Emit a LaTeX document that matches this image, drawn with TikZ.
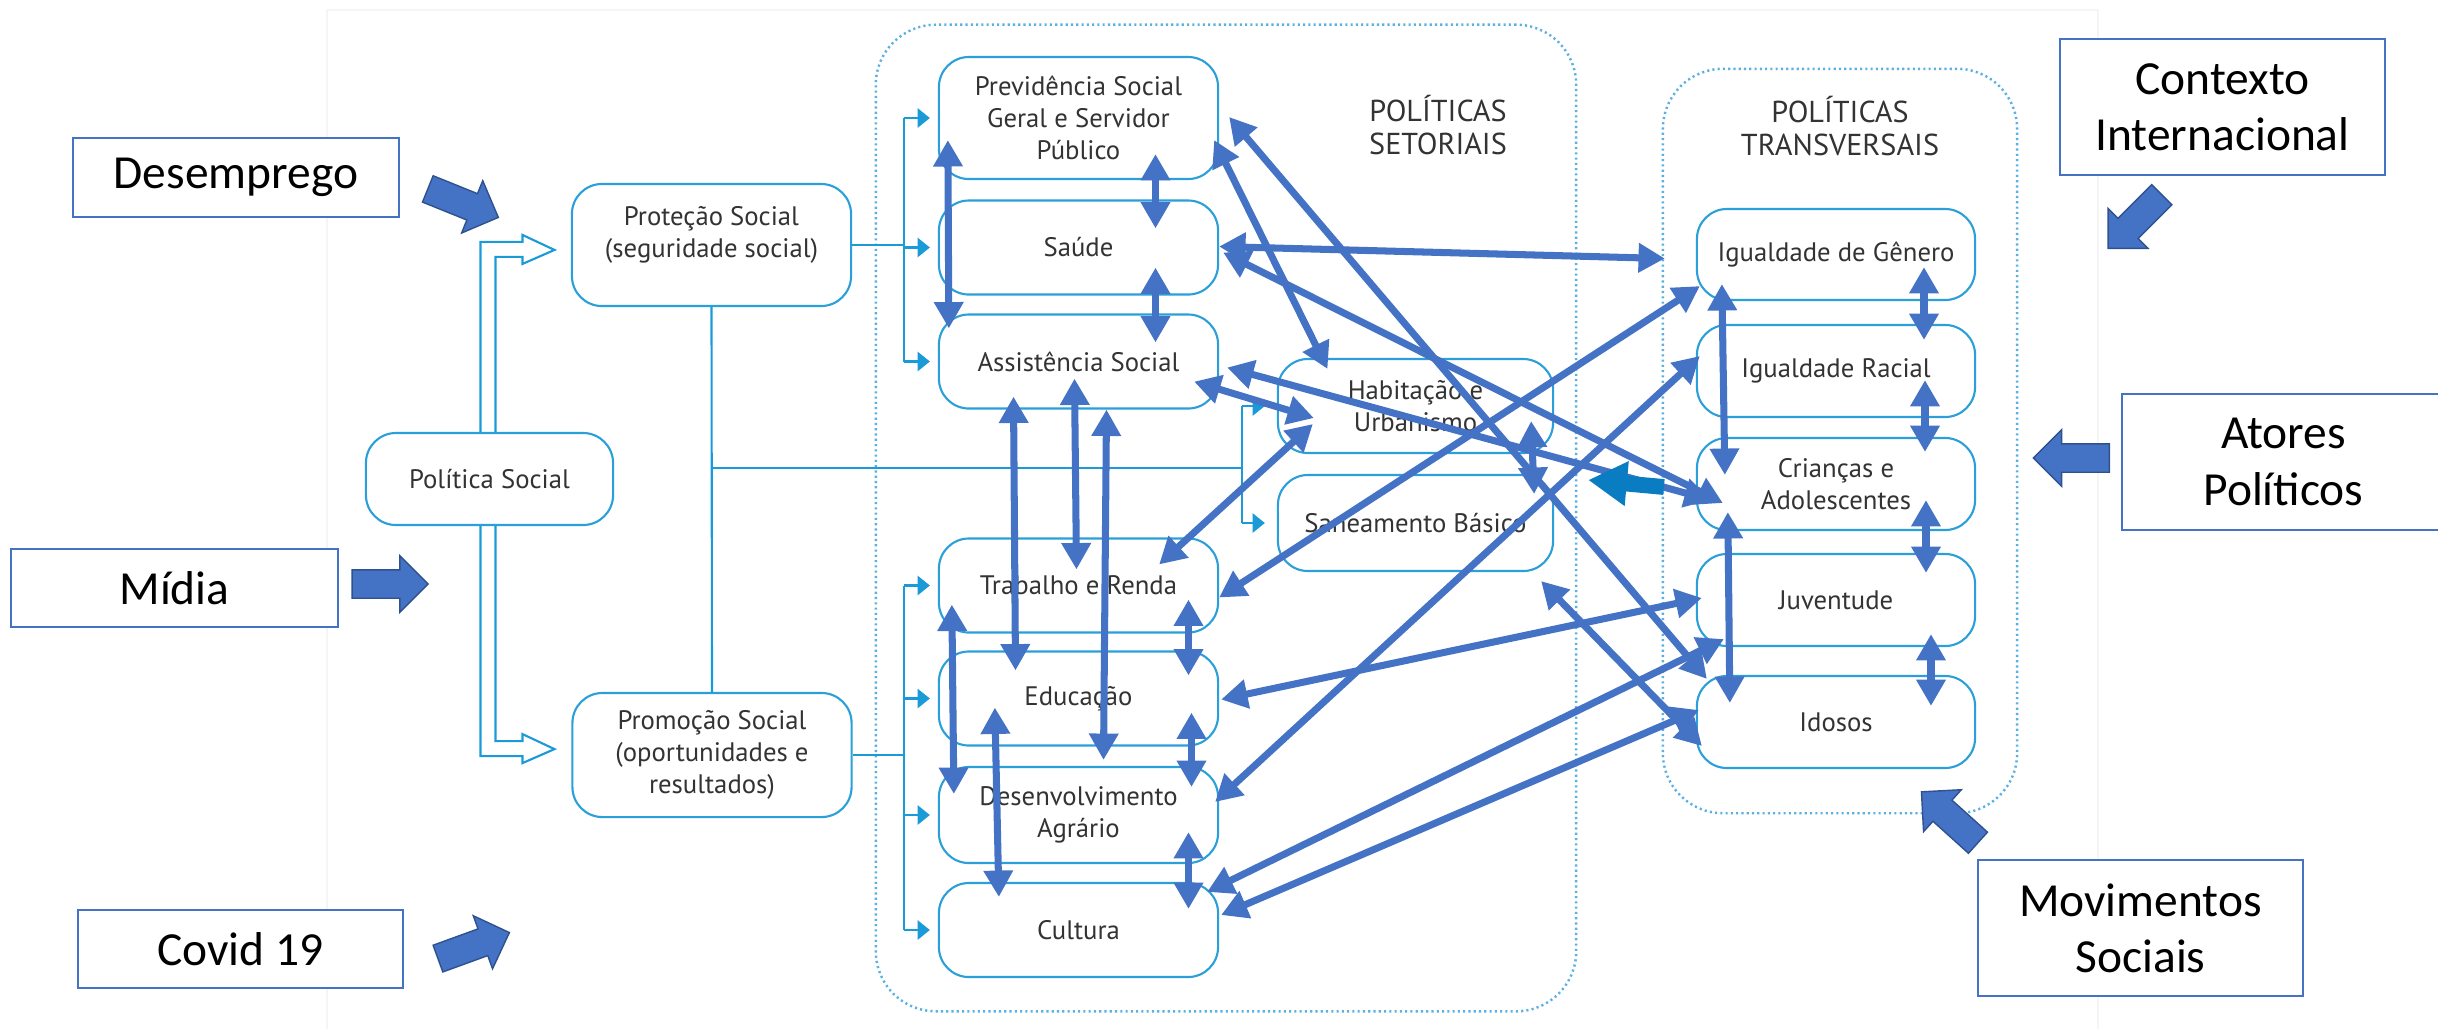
\documentclass[tikz,border=0pt]{standalone}
\usepackage{fontspec}
\setmainfont{Carlito}
\newfontfamily\ptsans{PT Sans}
\usetikzlibrary{arrows.meta,shapes.arrows}

\definecolor{linkblue}{HTML}{4472C4}
\definecolor{edgeblue}{HTML}{2F528F}
\definecolor{boxblue}{HTML}{2B9FD9}
\definecolor{flowblue}{HTML}{1A9AD7}
\definecolor{dotblue}{HTML}{5AB0E0}
\definecolor{tealblue}{HTML}{0A7DC2}
\definecolor{poltext}{HTML}{333333}

\tikzset{
    policy/.style={draw=boxblue, line width=0.6pt, rounded corners=0.3cm, fill=white,
        minimum width=2.79cm, minimum height=0.94cm, inner sep=1pt, align=center,
        text=poltext, font={\ptsans\fontsize{7.6}{9}\selectfont}},
    polhead/.style={align=center, text=poltext, font={\ptsans\fontsize{8.6}{9.5}\selectfont}},
    container/.style={draw=dotblue, line width=0.7pt, dash pattern=on 0.6pt off 0.9pt,
        rounded corners=0.6cm, inner sep=0pt, outer sep=0pt},
    callout/.style={draw=linkblue, line width=0.6pt, fill=white, align=center,
        inner sep=0pt, font={\fontsize{13.5}{16}\selectfont}},
    bigarrow/.style={single arrow, draw=edgeblue, fill=linkblue, line width=0.4pt,
        minimum height=0.76cm, single arrow head extend=0.14cm,
        single arrow head indent=0pt, inner xsep=0pt, inner ysep=0.135cm,
        text height=0pt, text depth=0pt},
    linkarrow/.style={draw=linkblue, line width=2pt, >={Triangle[length=7.5pt,width=8pt]}, <->},
    flow/.style={draw=flowblue, line width=0.6pt},
    flowtip/.style={flow, -{Triangle[length=3.5pt,width=5.5pt]}},
    hollow/.style={draw=flowblue, line width=0.6pt, line join=miter},
    tealarrow/.style={draw=tealblue, line width=4.5pt, -{Triangle[length=11pt,width=12pt]}}
}

\begin{document}
\begin{tikzpicture}[x=0.01cm, y=-0.01cm]
    \useasboundingbox (0,0) rectangle (2438,1029);

  % frame of the pasted chart
    \draw[gray!8] (327,1029) |- (2098,10) -- (2098,1029);

  % Containers
    \node[container, minimum width=7cm, minimum height=9.86cm] (setor) at (1226,518) {};
    \node[container, minimum width=3.54cm, minimum height=7.44cm] (trans) at (1840,441) {};
    \node[polhead] (setorhead) at (1438,125) {POLÍTICAS\\SETORIAIS};
    \node[polhead] (transhead) at (1840,126) {POLÍTICAS\\TRANSVERSAIS};

  % Policy boxes
    \node[policy, minimum width=2.47cm, minimum height=0.92cm] (polsoc) at (489.5,479) {Política Social};
    \node[policy, minimum height=1.22cm] (prot) at (711.5,245) {Proteção Social\\(seguridade social)\\[-1.5pt]};
    \node[policy, minimum height=1.24cm] (prom) at (712,755) {Promoção Social\\(oportunidades e\\resultados)};

    \node[policy, minimum height=1.22cm] (prev) at (1078.5,118) {Previdência Social\\Geral e Servidor\\Público};
    \node[policy] (saude) at (1078.5,247.5) {Saúde};
    \node[policy] (assist) at (1078.5,361.5) {Assistência Social};
    \node[policy] (trab) at (1078.5,585.5) {Trabalho e Renda};
    \node[policy] (edu) at (1078.5,698.5) {Educação};
    \node[policy, minimum height=0.96cm] (desenv) at (1078.5,815) {Desenvolvimento\\Agrário};
    \node[policy] (cult) at (1078.5,930) {Cultura};
    \node[policy, minimum width=2.75cm] (hab) at (1415.5,406) {Habitação e\\Urbanismo};
    \node[policy, minimum width=2.75cm, minimum height=0.96cm] (san) at (1415.5,523) {Saneamento Básico};

    \node[policy, minimum width=2.78cm, minimum height=0.91cm] (gen) at (1836,254.5) {Igualdade de Gênero};
    \node[policy, minimum width=2.78cm, minimum height=0.92cm] (rac) at (1836,371) {Igualdade Racial};
    \node[policy, minimum width=2.78cm, minimum height=0.92cm] (cri) at (1836,484) {Crianças e\\Adolescentes};
    \node[policy, minimum width=2.78cm, minimum height=0.92cm] (juv) at (1836,600) {Juventude};
    \node[policy, minimum width=2.78cm, minimum height=0.92cm] (ido) at (1836,722) {Idosos};

  % Flow lines and brackets into the sectors
    \coordinate (busA) at (904,0);
    \coordinate (busB) at (1242,468);
    \draw[flow] (prot.south) -- (prom.north);
    \draw[flow] (prot.south |- busB) -- (busB);
    \draw[flow] (prot.east) -- (busA |- prot.east);
    \draw[flow] (busA |- prev.west) -- (busA |- assist.west);
    \draw[flow] (prom.east) -- (busA |- prom.east);
    \draw[flow] (busA |- trab.west) -- (busA |- cult.west);
    \foreach \n in {prev,saude,assist,trab,edu,desenv,cult}
      \draw[flowtip] (busA |- \n.west) -- ([shift={(-8,0)}]\n.west);
    \draw[flow] (busB |- hab.west) -- (busB |- san.west);
    \foreach \n in {hab,san}
      \draw[flowtip] (busB |- \n.west) -- ([shift={(-12,0)}]\n.west);

  % Hollow arrows
    \draw[hollow] ([shift={(-9,0)}]polsoc.north) |- ++(42,-190) -- ++(0,-7) -- ++(32,15)
      -- ++(-32,14) -- ++(0,-7) -- ++(-27,0) -- ([shift={(6,0)}]polsoc.north);
    \draw[hollow] ([shift={(-9,0)}]polsoc.south) |- ++(42,230) -- ++(0,7) -- ++(32,-14)
      -- ++(-32,-15) -- ++(0,7) -- ++(-27,0) -- ([shift={(6,0)}]polsoc.south);

  % Links between sectors
    \draw[linkarrow] ([shift={(10,-40)}]prev.south west) -- ([shift={(11,15)}]assist.north west);
    \draw[linkarrow] ([shift={(77,-26)}]prev.south) -- ([shift={(77,29)}]saude.north);
    \draw[linkarrow] ([shift={(77,-28)}]saude.south) -- ([shift={(77,29)}]assist.north);
    \draw[linkarrow] ([shift={(-65,-13)}]assist.south) -- ([shift={(-63,20)}]edu.north);
    \draw[linkarrow] ([shift={(-4,-31)}]assist.south) -- ([shift={(-2,32)}]trab.north);
    \draw[linkarrow] ([shift={(28,0)}]assist.south) -- ([shift={(25,-6)}]desenv.north);
    \draw[linkarrow] ([shift={(-5,22)}]prev.east) -- ([shift={(-88,11)}]hab.north);
    \draw[linkarrow] ([shift={(-25,-28)}]assist.south east) -- ([shift={(37,12)}]hab.west);
    \draw[linkarrow] ([shift={(-60,27)}]trab.north east) -- ([shift={(36,18)}]hab.west);
    \draw[linkarrow] ([shift={(-23,-33)}]hab.south east) -- ([shift={(-20,20)}]san.north east);
    \draw[linkarrow] ([shift={(14,-29)}]trab.south west) -- ([shift={(16,28)}]desenv.north west);
    \draw[linkarrow] ([shift={(57,-39)}]edu.south west) -- ([shift={(61,15)}]cult.north west);
    \draw[linkarrow] ([shift={(110,-34)}]trab.south) -- ([shift={(110,25)}]edu.north);
    \draw[linkarrow] ([shift={(113,-34)}]edu.south) -- ([shift={(113,21)}]desenv.north);
    \draw[linkarrow] ([shift={(110,-32)}]desenv.south) -- ([shift={(110,27)}]cult.north);

  % Links to the transversal policies
    \draw[linkarrow] ([shift={(0,-1)}]saude.east) -- ([shift={(-31,4)}]gen.west);
    \draw[linkarrow] ([shift={(4,5)}]saude.east) -- ([shift={(27,19)}]cri.west);
    \draw[linkarrow] ([shift={(8,6)}]assist.east) -- ([shift={(15,16)}]cri.west);
    \draw[linkarrow] ([shift={(10,-1)}]prev.east) -- ([shift={(11,4)}]ido.north west);
    \draw[linkarrow] ([shift={(0,12)}]trab.east) -- ([shift={(4,-15)}]gen.south west);
    \draw[linkarrow] ([shift={(-4,-13)}]desenv.east) -- ([shift={(4,-15)}]rac.west);
    \draw[linkarrow] ([shift={(2,1)}]edu.east) -- ([shift={(6,-2)}]juv.west);
    \draw[linkarrow] ([shift={(-13,9)}]san.south east) -- ([shift={(6,24)}]ido.west);
    \draw[linkarrow] ([shift={(-12,10)}]cult.north east) -- ([shift={(28,-8)}]juv.south west);
    \draw[linkarrow] ([shift={(2,-15)}]cult.east) -- ([shift={(3,-12)}]ido.west);

  % Links inside the transversal column
    \draw[linkarrow] ([shift={(26,-17)}]gen.south west) -- ([shift={(29,38)}]cri.north west);
    \draw[linkarrow] ([shift={(32,-19)}]cri.south west) -- ([shift={(34,28)}]ido.north west);
    \foreach \a/\b/\dx/\up/\dn in {gen/rac/88/-34/16, rac/cri/89/-38/15, cri/juv/90/-31/20, juv/ido/95/-13/31}
      \draw[linkarrow] ([shift={(\dx,\up)}]\a.south) -- ([shift={(\dx,\dn)}]\b.north);

    \draw[tealarrow] ([shift={(1,46)}]trans.west) -- ([shift={(12,-38)}]setor.east);

  % Outside factors
    \node[callout, minimum width=3.26cm, minimum height=0.79cm] (desemp) at (236,177.5) {Desemprego};
    \node[callout, minimum width=3.27cm, minimum height=0.78cm] (midia) at (174.5,588) {Mídia};
    \node[callout, minimum width=3.25cm, minimum height=0.78cm] (covid) at (240.5,949) {Covid 19};
    \node[callout, minimum width=3.25cm, minimum height=1.36cm] (contexto) at (2222.5,107) {Contexto\\Internacional};
    \node[callout, minimum width=3.23cm, minimum height=1.36cm] (atores) at (2283.5,462) {Atores\\Políticos};
    \node[callout, minimum width=3.25cm, minimum height=1.36cm] (movim) at (2140.5,928) {Movimentos\\Sociais};

    \node[bigarrow, rotate=-22] (desarrow) at (456.5,200.5) {};
    \node[bigarrow] (midarrow) at (383,584) {};
    \node[bigarrow, rotate=20] (covarrow) at (467,948) {};
    \node[bigarrow, rotate=225] (ctxarrow) at (2140,216.5) {};
    \node[bigarrow, rotate=180] (atarrow) at (2078.5,458) {};
    \node[bigarrow, rotate=138] (movarrow) at (1955,822) {};
\end{tikzpicture}
\end{document}
